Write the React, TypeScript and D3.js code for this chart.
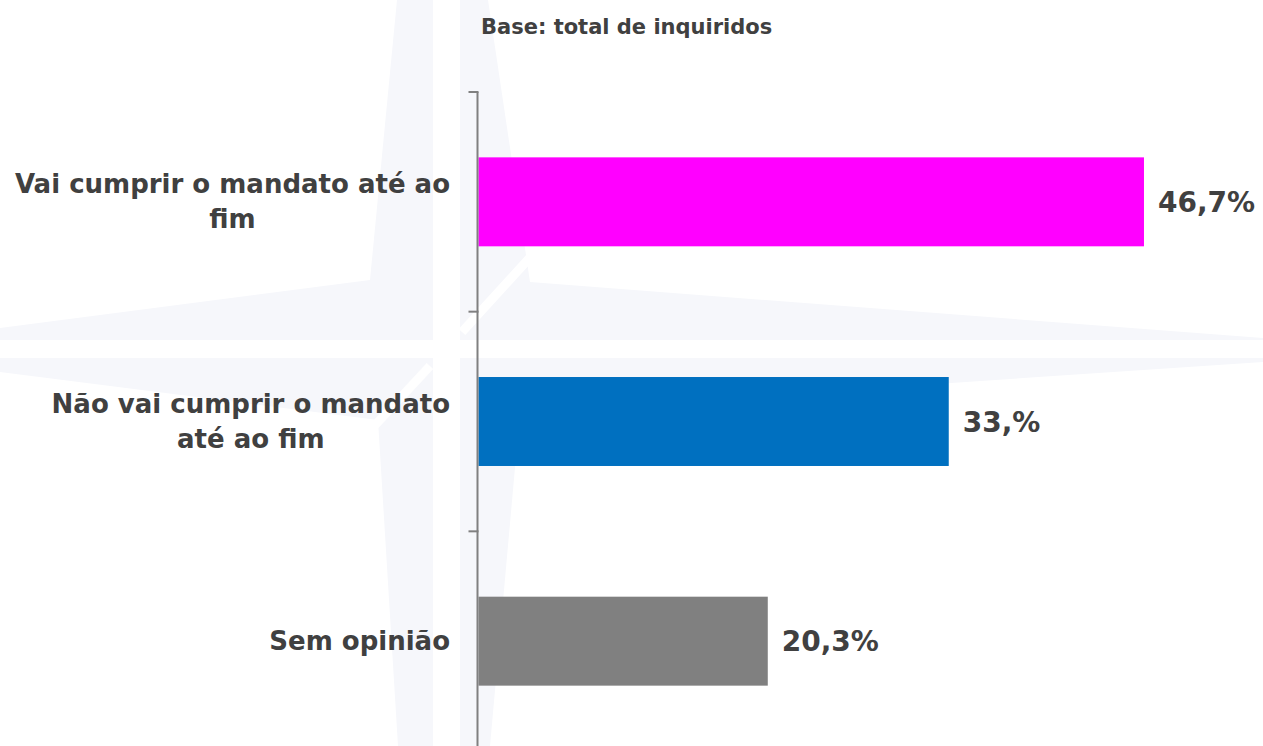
import React, { useEffect, useRef } from "react";
import * as d3 from "d3";

const categories: string[][] = [
  ["Vai cumprir o mandato até ao", "fim"],
  ["Não vai cumprir o mandato", "até ao fim"],
  ["Sem opinião"],
];
const values: number[] = [46.7, 33.0, 20.3];
const valueLabels: string[] = ["46,7%", "33,%", "20,3%"];
const barColors: string[] = ["#FF00FF", "#0070C0", "#808080"];
const subtitle = "Base: total de inquiridos";

const W = 1263;
const H = 746;
const FONT = "'DejaVu Sans', Verdana, sans-serif";
const TEXT = "#404040";

export default function App() {
  const ref = useRef<SVGSVGElement | null>(null);

  useEffect(() => {
    const svg = d3.select(ref.current);
    svg.selectAll("*").remove();

    // watermark star
    const wm = svg.append("g");
    const star: [number, number][] = [
      [397, 0], [488, 0], [530, 282], [1263, 338], [1263, 362], [520, 412],
      [490, 746], [398, 746], [378, 420], [0, 372], [0, 328], [370, 280],
    ];
    wm.append("path")
      .attr("d", (d3.line() as any)(star) + "Z")
      .attr("fill", "#f6f7fb");
    wm.append("rect").attr("x", 433).attr("y", 0).attr("width", 27).attr("height", H).attr("fill", "#fff");
    wm.append("rect").attr("x", 0).attr("y", 340).attr("width", W).attr("height", 18).attr("fill", "#fff");
    wm.append("line").attr("x1", 462).attr("y1", 332).attr("x2", 535).attr("y2", 252)
      .attr("stroke", "#fff").attr("stroke-width", 9);
    wm.append("line").attr("x1", 430).attr("y1", 366).attr("x2", 365).attr("y2", 436)
      .attr("stroke", "#fff").attr("stroke-width", 9);

    const ids = categories.map((_, i) => String(i));
    const y = d3.scaleBand<string>()
      .domain(ids)
      .range([92, 751])
      .paddingInner(0.595)
      .paddingOuter(0.2975);
    const x = d3.scaleLinear().domain([0, 50]).range([478.5, 1191]);

    // bars
    svg.append("g").selectAll("rect")
      .data(values)
      .join("rect")
      .attr("x", x(0))
      .attr("y", (_, i) => y(ids[i]) as number)
      .attr("width", (d) => x(d) - x(0))
      .attr("height", y.bandwidth())
      .attr("fill", (_, i) => barColors[i]);

    // axis
    const axisX = 477.5;
    const g = svg.append("g");
    const r = y.range();
    g.append("line").attr("x1", axisX).attr("x2", axisX).attr("y1", r[0]).attr("y2", r[1])
      .attr("stroke", "#808080").attr("stroke-width", 2);
    const step = y.step();
    d3.range(ids.length + 1).forEach((i) => {
      const ty = r[0] + i * step;
      g.append("line").attr("x1", axisX - 9).attr("x2", axisX + 1).attr("y1", ty).attr("y2", ty)
        .attr("stroke", "#808080").attr("stroke-width", 2);
    });

    // category labels
    const fs = 26;
    const lh = 35;
    const rightEdge = 450;
    categories.forEach((lines, i) => {
      const cy = (y(ids[i]) as number) + y.bandwidth() / 2;
      const t = svg.append("text")
        .attr("font-family", FONT).attr("font-weight", "bold").attr("font-size", fs)
        .attr("fill", TEXT).attr("text-anchor", "middle");
      const spans = lines.map((ln, k) =>
        t.append("tspan").attr("y", cy - ((lines.length - 1) * lh) / 2 + k * lh + fs * 0.35).text(ln)
      );
      let maxW = 0;
      spans.forEach((s) => {
        const w = (s.node() as SVGTSpanElement).getComputedTextLength();
        if (w > maxW) maxW = w;
      });
      spans.forEach((s) => s.attr("x", rightEdge - maxW / 2));
    });

    // value labels
    svg.append("g").selectAll("text")
      .data(values)
      .join("text")
      .attr("x", (d) => x(d) + 14)
      .attr("y", (_, i) => (y(ids[i]) as number) + y.bandwidth() / 2 + 28 * 0.36)
      .attr("font-family", FONT).attr("font-weight", "bold").attr("font-size", 28)
      .attr("fill", TEXT)
      .text((_, i) => valueLabels[i]);

    // subtitle
    svg.append("text")
      .attr("x", 481).attr("y", 34)
      .attr("font-family", FONT).attr("font-weight", "bold").attr("font-size", 21)
      .attr("fill", TEXT)
      .text(subtitle);
  }, []);

  return (
    <svg
      ref={ref}
      width={W}
      height={H}
      style={{ position: "absolute", left: 0, top: 0, background: "#fff", display: "block" }}
    />
  );
}
